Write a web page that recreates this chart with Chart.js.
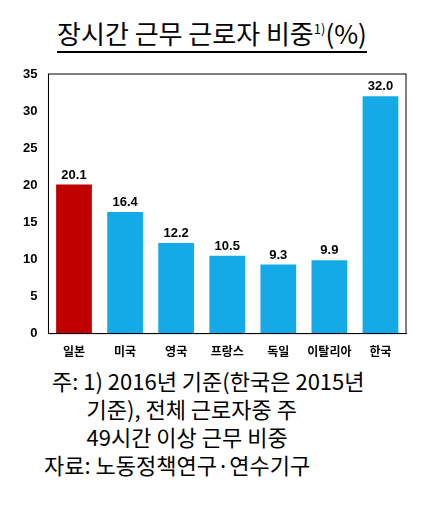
<!DOCTYPE html><html><head><meta charset="utf-8">
<script src="https://cdn.jsdelivr.net/npm/chart.js@4"></script>
<style>
body{margin:0;width:424px;height:508px;background:#fff;font-family:"Noto Sans CJK KR";}
#title{position:absolute;left:0;width:424px;top:14px;text-align:center;font-size:26px;color:#000;}
#title span{border-bottom:2px solid #000;}
#wrap{position:absolute;left:0;top:62px;width:424px;height:300px;}
#note{position:absolute;left:52px;top:366px;font-size:22px;line-height:28px;color:#000;font-family:"Noto Sans CJK KR";}
</style></head><body>
<div id="title"><span>장시간 근무 근로자 비중<sup style="font-size:13px">1)</sup>(%)</span></div>
<div id="wrap"><canvas id="c"></canvas></div>
<div id="note">주: 1) 2016년 기준(한국은 2015년<br>&nbsp;&nbsp;&nbsp;&nbsp;&nbsp;&nbsp;&nbsp;기준), 전체 근로자중 주<br>&nbsp;&nbsp;&nbsp;&nbsp;&nbsp;&nbsp;&nbsp;49시간 이상 근무 비중<br><span style="margin-left:-8px">자료: 노동정책연구·연수기구</span></div>
<script>
const categories=["일본","미국","영국","프랑스","독일","이탈리아","한국"];
const values=[20.1,16.4,12.2,10.5,9.3,9.9,32.0];
const colors=values.map((v,i)=>i===0?"#C00000":"#14AAE8");
const border={id:"border",afterDraw(ch){const a=ch.chartArea,x=ch.ctx;x.save();x.strokeStyle="#000";x.lineWidth=1;x.strokeRect(a.left,a.top,a.right-a.left,a.bottom-a.top);x.restore();}};
const labels={id:"labels",afterDatasetsDraw(ch){const x=ch.ctx;x.save();x.font="bold 13px Arial";x.fillStyle="#000";x.textAlign="center";ch.getDatasetMeta(0).data.forEach((b,i)=>x.fillText(values[i].toFixed(1),b.x,b.y-6));x.restore();}};
new Chart(document.getElementById("c"),{type:"bar",data:{labels:categories,datasets:[{data:values,backgroundColor:colors,barPercentage:0.7,categoryPercentage:1}]},
options:{responsive:true,maintainAspectRatio:false,animation:false,layout:{padding:{left:20,right:18,top:12}},
plugins:{legend:{display:false},tooltip:{enabled:false}},
scales:{y:{min:0,max:35,ticks:{stepSize:5,color:"#000",font:{size:13,weight:"bold",family:"Arial"}},grid:{display:false},border:{color:"#000"}},
x:{ticks:{color:"#000",font:{size:12,weight:"bold",family:"Noto Sans CJK KR"}},grid:{display:false},border:{color:"#000"}}}},plugins:[border,labels]});
</script></body></html>
